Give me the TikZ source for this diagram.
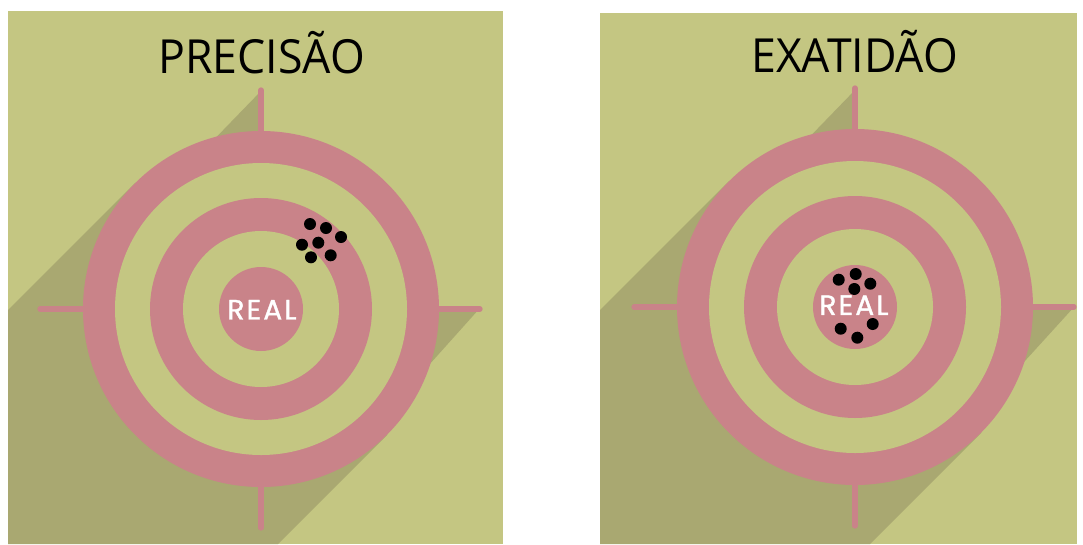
\documentclass[tikz,border=0pt]{standalone}
\usepackage{fontspec}
\newfontfamily\titlefont{Open Sans}
\newfontfamily\realfont[LetterSpace=8,FakeBold=1.3]{Poppins}
\definecolor{olive}{HTML}{C4C682}
\definecolor{shade}{HTML}{A9A871}
\definecolor{rose}{HTML}{C98389}
\tikzset{
  panel/.style={fill=olive},
  shadow/.style={fill=shade},
  cross/.style={draw=rose, line width=5.3pt, line cap=round},
  ringpink/.style={fill=rose},
  ringolive/.style={fill=olive},
  hit/.style={fill=black},
  title/.style={font=\titlefont\fontsize{47}{47}\selectfont, text=black, inner sep=0pt, anchor=base},
  real/.style={font=\realfont\fontsize{28}{28}\selectfont, text=white, inner sep=0pt}
}
\newcommand\drawtarget[1]{%
  \draw[cross] (#1) ++(0,-219) -- ++(0,60);
  \draw[cross] (#1) ++(0,219) -- ++(0,-60);
  \draw[cross] (#1) ++(-221,0) -- ++(60,0);
  \draw[cross] (#1) ++(219,0) -- ++(-60,0);
  \fill[ringpink] (#1) circle[radius=178pt];
  \fill[ringolive] (#1) circle[radius=146pt];
  \fill[ringpink] (#1) circle[radius=111pt];
  \fill[ringolive] (#1) circle[radius=78pt];
  \fill[ringpink] (#1) circle[radius=42pt];
}
\begin{document}
\begin{tikzpicture}[x=1pt,y=-1pt]
\useasboundingbox[fill=white] (0,0) rectangle (1083,544);
% ---------- left panel ----------
\fill[panel] (8,11) rectangle (503,544);
\begin{scope}
  \clip (8,11) rectangle (503,544);
  \fill[shadow] (262,90) -- (200,154) -- (135,183) -- (8,310) -- (8,544) -- (278,544)
    -- (387,435) -- (420,375) -- (480,308) -- (430,306) -- (262,140) -- cycle;
\end{scope}
\coordinate (cL) at (261,309);
\drawtarget{cL}
\node[title] (tL) at (261.7,73) {\scalebox{0.95}[1]{PRECISÃO}};
\node[real] (rL) at (262,309.7) {REAL};
\foreach \p in {(310,224),(326,228),(341,237),(302,244.7),(318.3,242.7),(311,257.3),(330.7,255.3)}
  \fill[hit] \p circle[radius=6pt];
% ---------- right panel ----------
\fill[panel] (600,13) rectangle (1077,544);
\begin{scope}
  \clip (600,13) rectangle (1077,544);
  \fill[shadow] (856,89) -- (794,153) -- (729,181) -- (600,310) -- (600,544) -- (870,544)
    -- (981,433) -- (1014,373) -- (1074,307) -- (1024,305) -- (856,138) -- cycle;
\end{scope}
\coordinate (cR) at (855,307);
\drawtarget{cR}
\node[title] (tR) at (854.7,72.2) {\scalebox{0.95}[1]{EXATIDÃO}};
\node[real] (rR) at (854,305.2) {REAL};
\foreach \p in {(838.7,279.7),(855.7,274),(870.3,283.7),(854.3,289),(840.7,328.7),(872.7,324),(857.3,337.7)}
  \fill[hit] \p circle[radius=6pt];
\end{tikzpicture}
\end{document}
